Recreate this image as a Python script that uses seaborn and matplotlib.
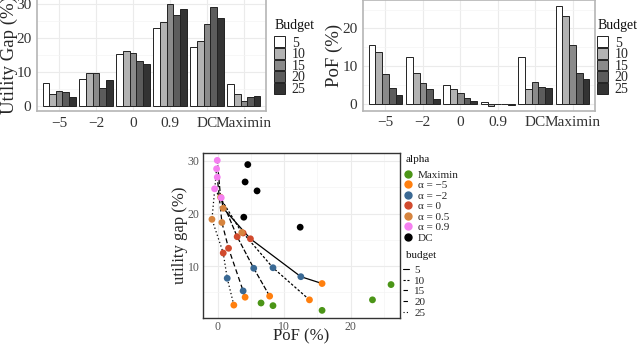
import pandas as pd
import matplotlib.pyplot as plt
import seaborn as sns
from matplotlib.patches import Patch
from matplotlib.lines import Line2D

# --- data ---
alphas = ["−5", "−2", "0", "0.9", "DC", "Maximin"]
budgets = ["5", "10", "15", "20", "25"]

# utility gap (%) per alpha, one value per budget
gap_m5 = [6.7, 3.6, 4.3, 4.1, 2.6]
gap_m2 = [8.0, 9.7, 9.6, 5.3, 7.7]
gap_0 = [15.2, 16.3, 15.6, 13.4, 12.5]
gap_05 = [21.0, 16.4, 23.1, 18.3, 18.9]
gap_09 = [23.0, 24.7, 30.1, 26.9, 28.5]
gap_dc = [17.4, 19.3, 24.3, 29.3, 26.0]
gap_max = [6.5, 3.6, 1.6, 2.5, 3.0]

# price of fairness (%) per alpha, one value per budget
pof_m5 = [15.7, 13.8, 7.8, 4.1, 2.4]
pof_m2 = [12.5, 8.3, 5.4, 3.8, 1.4]
pof_0 = [4.9, 3.8, 2.9, 1.6, 0.8]
pof_05 = [0.8, 3.6, 0.4, 0.6, -0.9]
pof_09 = [0.5, -0.5, -0.1, -0.1, -0.2]
pof_dc = [12.4, 3.9, 5.9, 4.5, 4.1]
pof_max = [26.1, 23.3, 15.7, 8.3, 6.5]

greys = ["#ffffff", "#b3b3b3", "#8a8a8a", "#5c5c5c", "#333333"]
alpha_names = ["Maximin", "α = −5", "α = −2", "α = 0", "α = 0.5", "α = 0.9", "DC"]
alpha_colors = ["#4b9517", "#ff7f0e", "#3a6994", "#d14a2d", "#d6843e", "#f57ff0", "#000000"]
dash_styles = ["", (2, 1.5), (4, 1.5), (4, 2.5), (1, 2)]

# --- tables ---
bar_gap = [gap_m5, gap_m2, gap_0, gap_09, gap_dc, gap_max]
bar_pof = [pof_m5, pof_m2, pof_0, pof_09, pof_dc, pof_max]
rows = []
for a, g_list, p_list in zip(alphas, bar_gap, bar_pof):
    for b, g, p in zip(budgets, g_list, p_list):
        rows.append({"alpha": a, "budget": b, "gap": g, "pof": p})
df_bar = pd.DataFrame(rows)

sc_gap = [gap_max, gap_m5, gap_m2, gap_0, gap_05, gap_09, gap_dc]
sc_pof = [pof_max, pof_m5, pof_m2, pof_0, pof_05, pof_09, pof_dc]
rows = []
for name, g_list, p_list in zip(alpha_names, sc_gap, sc_pof):
    for b, g, p in zip(budgets, g_list, p_list):
        rows.append({"alpha": name, "budget": b, "gap": g, "pof": p})
df_sc = pd.DataFrame(rows)
line_order = ["α = −5", "α = −2", "α = 0", "α = 0.5", "α = 0.9"]
df_line = df_sc[df_sc["alpha"].isin(line_order)].copy()
df_line["ord"] = df_line["alpha"].map({k: i for i, k in enumerate(line_order)})
df_line = df_line.sort_values(["budget", "ord"])

sns.set_theme(style="white")
plt.rcParams["font.family"] = ["Liberation Serif", "DejaVu Serif"]

W, H = 640, 344
fig = plt.figure(figsize=(6.4, 3.44), dpi=100)


def px_axes(x0, y0, x1, y1):
    return fig.add_axes([x0 / W, 1 - y1 / H, (x1 - x0) / W, (y1 - y0) / H])


def px_text(x, y, s, size):
    fig.text(x / W, 1 - y / H, s, fontsize=size, ha="left", va="center", color="#111111")


def style_bar_axes(ax, ylabel, ylim, label_x):
    ax.set_xlim(-0.6, 5.6)
    ax.set_ylim(*ylim)
    ax.set_yticks([0, 10, 20, 30] if ylim[1] > 30 else [0, 10, 20])
    ax.set_yticks([5, 15, 25], minor=True)
    ax.grid(True, which="major", color="#ebebeb", linewidth=0.8)
    ax.grid(True, which="minor", axis="y", color="#f4f4f4", linewidth=0.5)
    ax.set_axisbelow(True)
    for s in ax.spines.values():
        s.set_color("#b5b5b5")
        s.set_linewidth(1.2)
    ax.tick_params(axis="both", which="major", length=3, width=0.6, color="#555555",
                   labelsize=11, labelcolor="#333333", pad=1)
    ax.tick_params(axis="y", which="minor", length=0)
    ax.set_xlabel("")
    ax.set_ylabel(ylabel, fontsize=13.5, va="center")
    ax.yaxis.set_label_coords(label_x, 0.5)


# --- top left: utility gap bars ---
ax1 = px_axes(37, -1, 266, 111)
sns.barplot(data=df_bar, x="alpha", y="gap", hue="budget", order=alphas, hue_order=budgets,
            palette=greys, edgecolor="#222222", linewidth=0.7, width=0.9, ax=ax1, legend=False)
style_bar_axes(ax1, "Utility Gap (%)", (-1.5, 31.6), (9 - 37) / 229)

# --- top right: PoF bars ---
ax2 = px_axes(363, 0.5, 595, 110.7)
sns.barplot(data=df_bar, x="alpha", y="pof", hue="budget", order=alphas, hue_order=budgets,
            palette=greys, edgecolor="#222222", linewidth=0.7, width=0.9, ax=ax2, legend=False)
style_bar_axes(ax2, "PoF (%)", (-1.83, 27.43), (334 - 363) / 232)

bar_handles = [Patch(facecolor=c, edgecolor="#222222", linewidth=0.7) for c in greys]
for xl in (275, 598):
    px_text(xl, 25, "Budget", 10)
    fig.legend(bar_handles, budgets, loc="upper left",
               bbox_to_anchor=((xl - 2) / W, 1 - 35 / H), frameon=False, fontsize=10,
               handlelength=0.75, handleheight=0.83, labelspacing=-0.12,
               handletextpad=0.5, borderpad=0.1, borderaxespad=0)

# --- bottom: trade-off scatter ---
ax3 = px_axes(203, 153, 400, 318)
sns.lineplot(data=df_line, x="pof", y="gap", style="budget", style_order=budgets,
             dashes=dict(zip(budgets, dash_styles)), color="black", linewidth=0.9,
             sort=False, estimator=None, ax=ax3, legend=False)
sns.scatterplot(data=df_sc, x="pof", y="gap", hue="alpha", hue_order=alpha_names,
                palette=alpha_colors, s=24, linewidth=0, ax=ax3, legend=False, zorder=3)
ax3.set_xlim(-2.25, 27.45)
ax3.set_ylim(0.15, 31.5)
ax3.set_xticks([0, 10, 20])
ax3.set_xticks([5, 15, 25], minor=True)
ax3.set_yticks([10, 20, 30])
ax3.set_yticks([5, 15, 25], minor=True)
ax3.grid(True, which="major", color="#ebebeb", linewidth=0.8)
ax3.grid(True, which="minor", color="#f4f4f4", linewidth=0.5)
ax3.set_axisbelow(True)
for s in ax3.spines.values():
    s.set_color("#333333")
    s.set_linewidth(1.0)
ax3.tick_params(axis="both", which="major", length=2, width=0.6, color="#333333",
                labelsize=8.5, labelcolor="#555555", pad=0.5)
ax3.tick_params(which="minor", length=0)
ax3.set_xlabel("PoF (%)", fontsize=12, va="center")
ax3.set_ylabel("utility gap (%)", fontsize=12, va="center")
ax3.xaxis.set_label_coords(0.5, -(336 - 318) / 165)
ax3.yaxis.set_label_coords((180 - 203) / 197, 0.5)

px_text(406, 160, "alpha", 8)
pt_handles = [Line2D([], [], marker="o", linestyle="", color=c, markersize=5) for c in alpha_colors]
fig.legend(pt_handles, alpha_names, loc="upper left",
           bbox_to_anchor=(402 / W, 1 - 169 / H), frameon=False, fontsize=8,
           handlelength=0.8, labelspacing=0.06, handletextpad=0.5,
           borderpad=0.1, borderaxespad=0)

px_text(406, 256, "budget", 8)
ln_handles = [Line2D([], [], color="black", linewidth=0.8, dashes=d) for d in dash_styles[1:]]
ln_handles.insert(0, Line2D([], [], color="black", linewidth=0.8, linestyle="-"))
fig.legend(ln_handles, budgets, loc="upper left",
           bbox_to_anchor=(402 / W, 1 - 264 / H), frameon=False, fontsize=8,
           handlelength=0.5, labelspacing=0.08, handletextpad=0.5,
           borderpad=0.1, borderaxespad=0)

fig.savefig("out.png", dpi=100, facecolor="white")
